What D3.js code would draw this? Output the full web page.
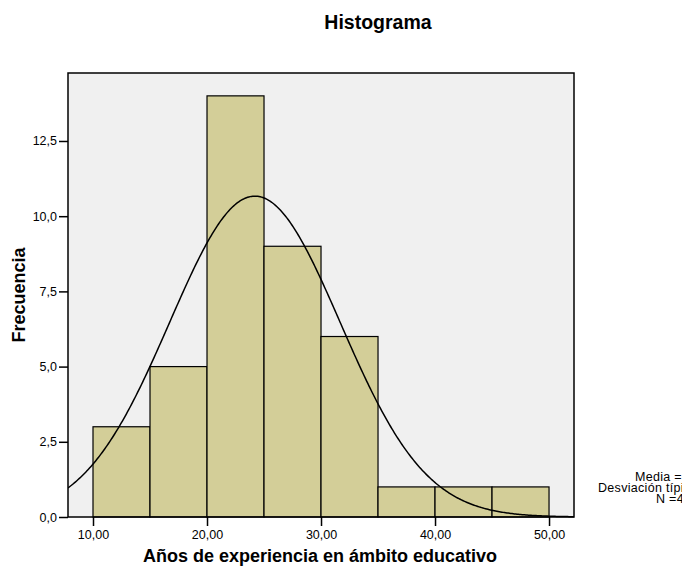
<!DOCTYPE html>
<html><head><meta charset="utf-8">
<script src="https://cdn.jsdelivr.net/npm/d3@7"></script>
<style>body{margin:0;background:#fff}svg{display:block;font-family:Arial,"Liberation Sans",sans-serif}</style>
</head><body>
<svg id="c" width="685" height="570"></svg>
<script>
const binStarts = [10, 15, 20, 25, 30, 35, 40, 45];
const binWidth = 5;
const counts = [3, 5, 14, 9, 6, 1, 1, 1];
const yTicks = [0, 2.5, 5, 7.5, 10, 12.5];
const xTicks = [10, 20, 30, 40, 50];
const meanVal = 24.2;
const sdVal = 7.48;
const nVal = 40;
const legendLines = ["Media =24,2", "Desviación típica =7,48", "N =40"];

const svg = d3.select("#c");
const L = 68, R = 574, T = 73, B = 517;
const x = d3.scaleLinear().domain([7.807, 52.19]).range([L, R]);
const y = d3.scaleLinear().domain([0, 14.76]).range([B, T]);

svg.append("text").attr("x", 378).attr("y", 29).attr("text-anchor", "middle")
  .attr("font-weight", "bold").attr("font-size", 19.5).text("Histograma");

svg.append("rect").attr("x", L).attr("y", T).attr("width", R - L).attr("height", B - T)
  .attr("fill", "#f0f0f0");

svg.append("g").selectAll("rect").data(binStarts).join("rect")
  .attr("x", (d) => x(d)).attr("width", (d) => x(d + binWidth) - x(d))
  .attr("y", (d, i) => y(counts[i])).attr("height", (d, i) => y(0) - y(counts[i]))
  .attr("fill", "#d3ce98").attr("stroke", "#000").attr("stroke-width", 1.2);

const defs = svg.append("defs");
defs.append("clipPath").attr("id", "pc").append("rect")
  .attr("x", L).attr("y", T).attr("width", R - L).attr("height", B - T + 2);
const xs = d3.range(0, 401).map((i) => 7.807 + (52.19 - 7.807) * i / 400);
const dens = (v) => nVal * binWidth / (sdVal * Math.sqrt(2 * Math.PI)) * Math.exp(-0.5 * ((v - meanVal) / sdVal) ** 2);
svg.append("path").datum(xs).attr("clip-path", "url(#pc)")
  .attr("d", d3.line().x((d) => x(d)).y((d) => y(dens(d))))
  .attr("fill", "none").attr("stroke", "#000").attr("stroke-width", 1.5);

svg.append("rect").attr("x", L).attr("y", T).attr("width", R - L).attr("height", B - T)
  .attr("fill", "none").attr("stroke", "#000").attr("stroke-width", 1.5);

const fmt1 = (v) => v.toFixed(1).replace(".", ",");
const fmt2 = (v) => v.toFixed(2).replace(".", ",");
const ya = svg.append("g").attr("transform", `translate(${L},0)`)
  .call(d3.axisLeft(y).tickValues(yTicks).tickFormat(fmt1).tickSize(9).tickPadding(2));
ya.select(".domain").remove();
ya.selectAll("line").attr("stroke", "#000").attr("stroke-width", 1.5);
ya.selectAll("text").attr("font-size", 12.5).attr("fill", "#000").style("font-family", "Arial, 'Liberation Sans', sans-serif");

const xa = svg.append("g").attr("transform", `translate(0,${B})`)
  .call(d3.axisBottom(x).tickValues(xTicks).tickFormat(fmt2).tickSize(9).tickPadding(4));
xa.select(".domain").remove();
xa.selectAll("line").attr("stroke", "#000").attr("stroke-width", 1.5);
xa.selectAll("text").attr("font-size", 12.5).attr("fill", "#000").style("font-family", "Arial, 'Liberation Sans', sans-serif");

svg.append("text").attr("x", 320).attr("y", 562).attr("text-anchor", "middle")
  .attr("font-weight", "bold").attr("font-size", 18).text("Años de experiencia en ámbito educativo");
svg.append("text").attr("transform", "translate(25,295) rotate(-90)").attr("text-anchor", "middle")
  .attr("font-weight", "bold").attr("font-size", 18).text("Frecuencia");

defs.append("clipPath").attr("id", "lc").append("rect")
  .attr("x", 0).attr("y", 0).attr("width", 682).attr("height", 570);
const lg = svg.append("g").attr("clip-path", "url(#lc)");
const lx = [635, 598, 656];
const ly = [481, 492, 503];
lg.selectAll("text").data(legendLines).join("text")
  .attr("x", (d, i) => lx[i]).attr("y", (d, i) => ly[i])
  .attr("font-size", 12.5).attr("letter-spacing", 0.3).text((d) => d);
</script>
</body></html>
